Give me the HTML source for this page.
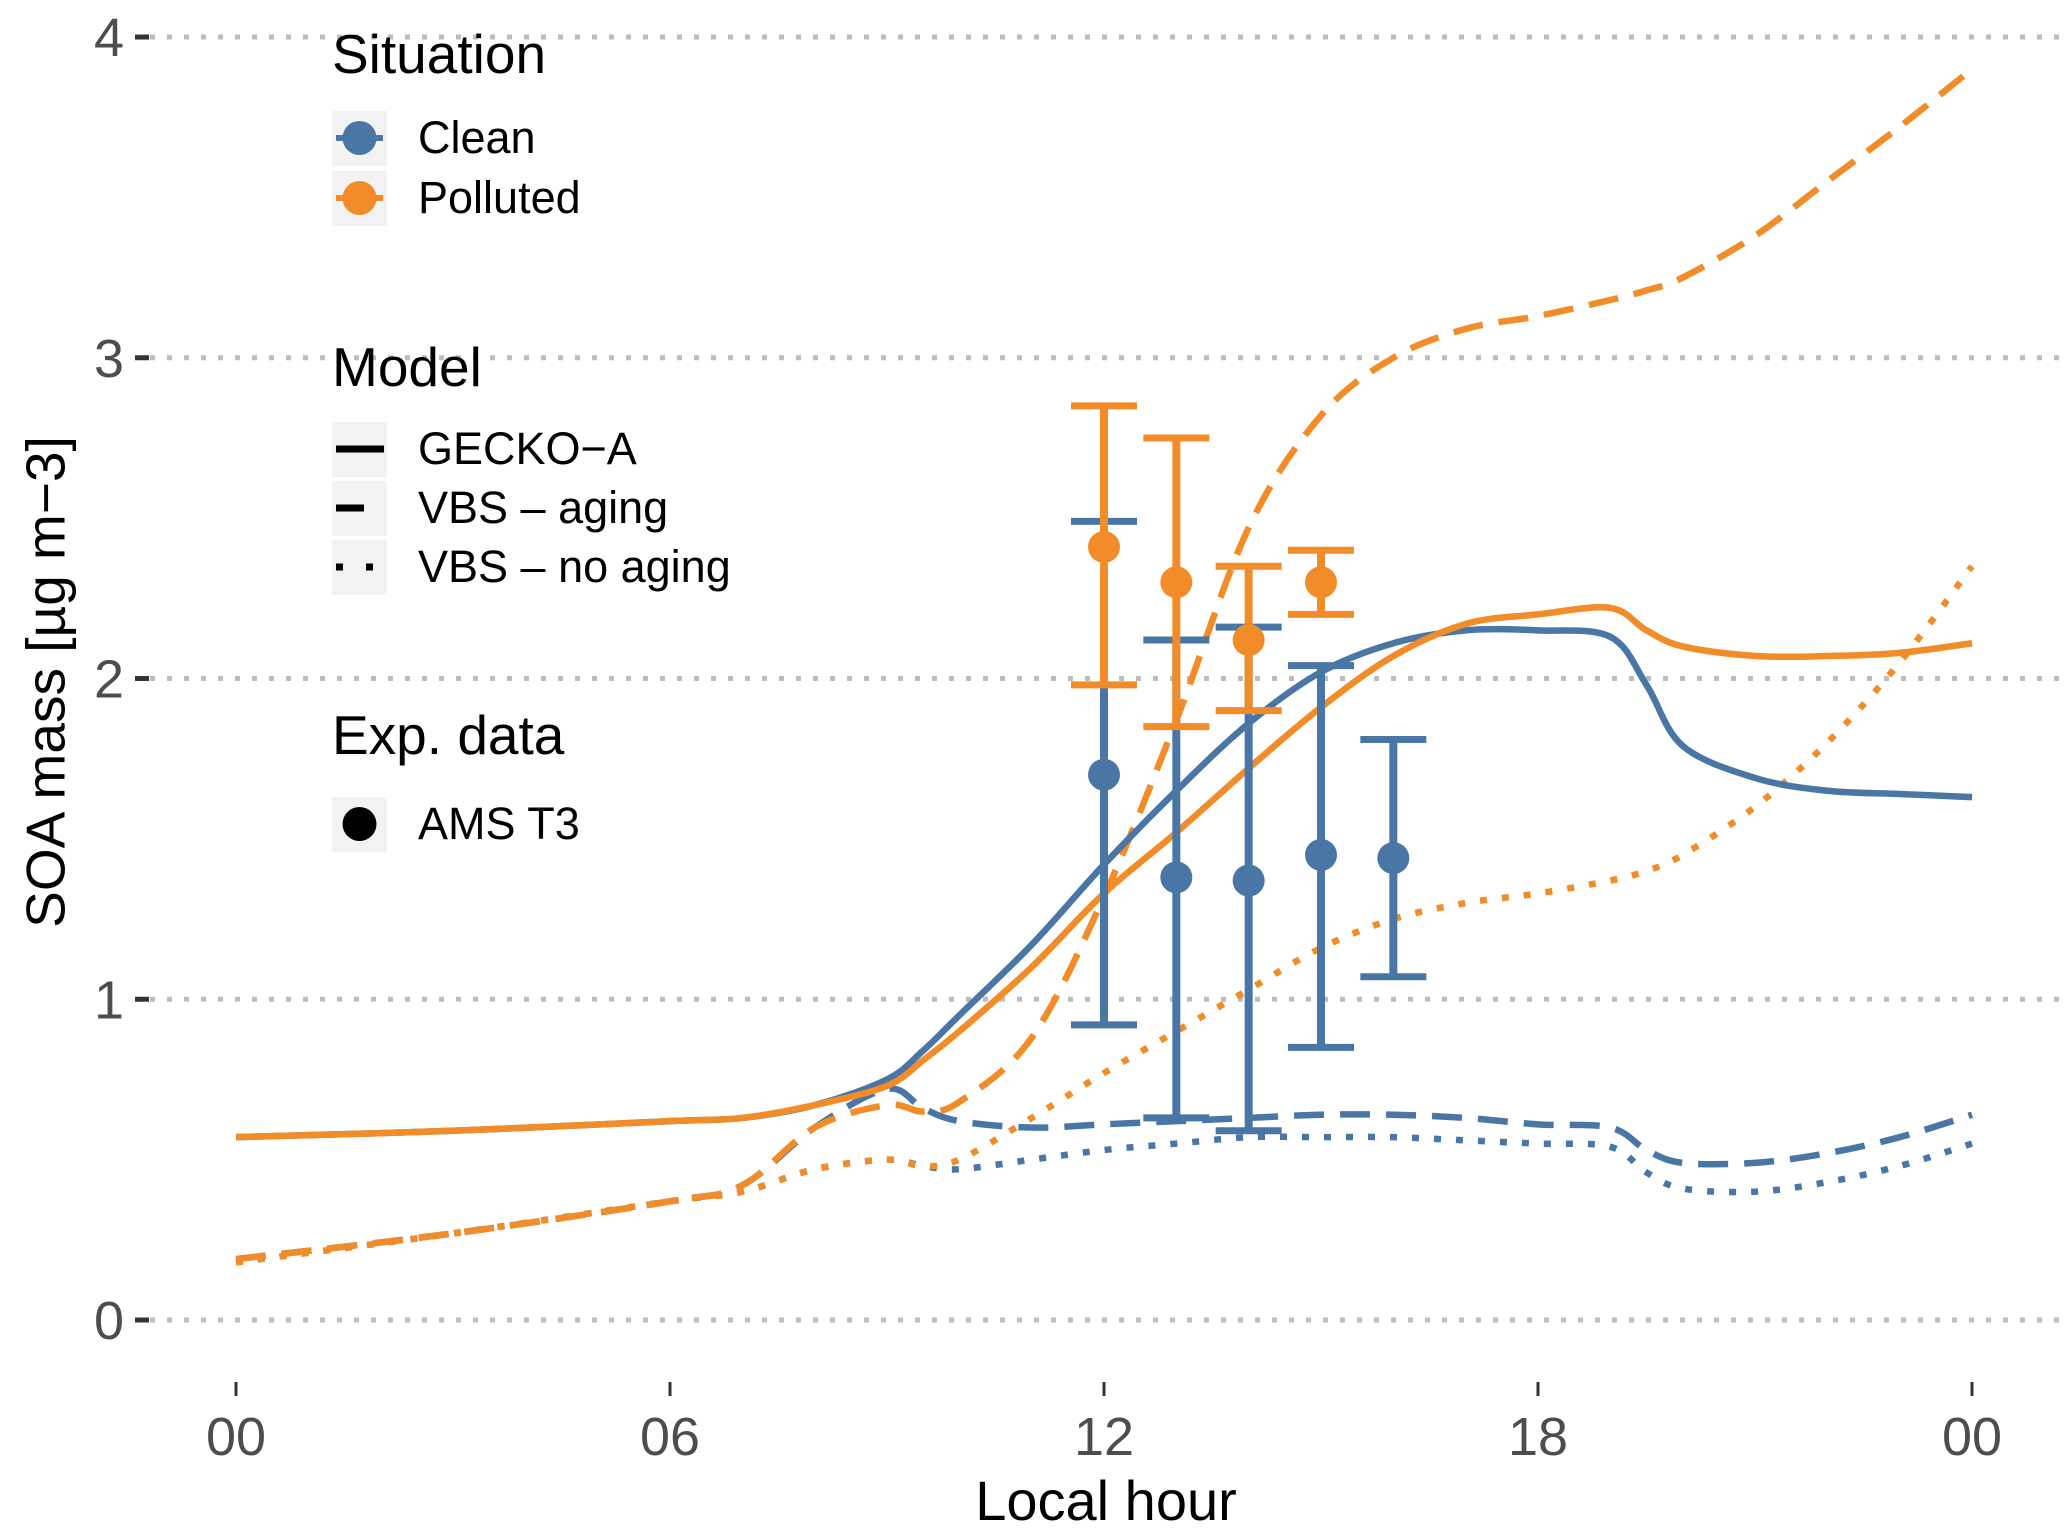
<!DOCTYPE html>
<html><head><meta charset="utf-8">
<style>
html,body{margin:0;padding:0;background:#fff;}
svg{display:block;font-family:"Liberation Sans",Arial,sans-serif;}
</style></head>
<body>
<svg id="chart" width="2067" height="1532" viewBox="0 0 2067 1532">
<g id="grid"></g>
<g id="yaxis"></g>
<g id="xaxis"></g>
<g id="series"></g>
<g id="points"></g>
<text x="50" y="682" transform="rotate(-90 50 682)" text-anchor="middle" dominant-baseline="middle" font-size="55" fill="#000">SOA mass [µg m−3]</text>
<text x="1106" y="1520" text-anchor="middle" font-size="56" fill="#000">Local hour</text>
<g>
 <text x="332" y="73" font-size="55">Situation</text>
 <rect x="332" y="111" width="55" height="55" fill="#f2f2f2"/>
 <line x1="336" y1="138" x2="383" y2="138" stroke="#4A76A6" stroke-width="6"/>
 <circle cx="359.5" cy="138" r="17" fill="#4A76A6"/>
 <text x="418" y="153" font-size="45">Clean</text>
 <rect x="332" y="171" width="55" height="55" fill="#f2f2f2"/>
 <line x1="336" y1="198" x2="383" y2="198" stroke="#F28C28" stroke-width="6"/>
 <circle cx="359.5" cy="198" r="17" fill="#F28C28"/>
 <text x="418" y="213" font-size="45">Polluted</text>
 <text x="332" y="386" font-size="55">Model</text>
 <rect x="332" y="422" width="55" height="55" fill="#f2f2f2"/>
 <line x1="336" y1="449" x2="384" y2="449" stroke="#000" stroke-width="7"/>
 <text x="418" y="464" font-size="45">GECKO−A</text>
 <rect x="332" y="481" width="55" height="55" fill="#f2f2f2"/>
 <line x1="336" y1="508" x2="364" y2="508" stroke="#000" stroke-width="7"/>
 <text x="418" y="523" font-size="45">VBS – aging</text>
 <rect x="332" y="540" width="55" height="55" fill="#f2f2f2"/>
 <line x1="336" y1="567" x2="343" y2="567" stroke="#000" stroke-width="7"/>
 <line x1="366" y1="567" x2="373" y2="567" stroke="#000" stroke-width="7"/>
 <text x="418" y="582" font-size="45">VBS – no aging</text>
 <text x="332" y="754" font-size="55">Exp. data</text>
 <rect x="332" y="797" width="55" height="55" fill="#f2f2f2"/>
 <circle cx="359.5" cy="824" r="17" fill="#000"/>
 <text x="418" y="839" font-size="45">AMS T3</text>
</g>
</svg>
<script>
var yTicks=[0,1,2,3,4];
var xTicks=[0,6,12,18,24];
var xTickLabels=["00","06","12","18","00"];
var hours=[0,3,6,7,8,9,9.5,10,11,12,13,14,15,16,17,18,19,19.5,20,21,22,23,24];
var cleanGecko=[0.57,0.59,0.62,0.63,0.67,0.75,0.84,0.95,1.17,1.42,1.65,1.86,2.02,2.11,2.15,2.15,2.13,1.98,1.79,1.69,1.65,1.64,1.63];
var pollGecko=[0.57,0.59,0.62,0.63,0.67,0.73,0.81,0.9,1.1,1.33,1.52,1.72,1.91,2.07,2.17,2.2,2.22,2.15,2.1,2.07,2.07,2.08,2.11];
var pollAging=[0.19,0.27,0.37,0.42,0.6,0.67,0.65,0.68,0.88,1.32,1.87,2.47,2.82,3.0,3.09,3.13,3.18,3.21,3.25,3.38,3.55,3.72,3.9];
var pollNoAging=[0.18,0.27,0.37,0.4,0.47,0.5,0.48,0.5,0.63,0.77,0.9,1.03,1.16,1.25,1.3,1.33,1.37,1.4,1.45,1.6,1.8,2.05,2.35];
var cleanAging=[0.19,0.27,0.37,0.42,0.6,0.72,0.66,0.62,0.6,0.61,0.62,0.63,0.64,0.64,0.63,0.61,0.6,0.53,0.49,0.49,0.52,0.57,0.64];
var cleanNoAging=[0.18,0.27,0.37,0.4,0.47,0.5,0.48,0.47,0.5,0.53,0.55,0.57,0.57,0.57,0.56,0.55,0.54,0.46,0.41,0.4,0.43,0.48,0.55];
var cleanHours=[12,13,14,15,16];
var cleanMean=[1.7,1.38,1.37,1.45,1.44];
var cleanLo=[0.92,0.63,0.59,0.85,1.07];
var cleanHi=[2.49,2.12,2.16,2.04,1.81];
var pollHours=[12,13,14,15];
var pollMean=[2.41,2.3,2.12,2.3];
var pollLo=[1.98,1.85,1.9,2.2];
var pollHi=[2.85,2.75,2.35,2.4];

var NS="http://www.w3.org/2000/svg";
var BLUE="#4A76A6", ORANGE="#F28C28";
function xs(h){return 236+h*(1972-236)/24;}
function ys(v){return 1320-v*320.75;}
function mk(tag,attrs,parent){var e=document.createElementNS(NS,tag);for(var k in attrs)e.setAttribute(k,attrs[k]);parent.appendChild(e);return e;}
var grid=document.getElementById('grid'),yax=document.getElementById('yaxis'),xax=document.getElementById('xaxis');
yTicks.forEach(function(v){
 var g=mk('line',{x1:150,x2:2067,y1:ys(v),y2:ys(v),stroke:'#bdbdbd','stroke-width':5,'stroke-dasharray':'5 12'},grid);
 
 
 var t=mk('line',{x1:135,x2:149,y1:ys(v),y2:ys(v),stroke:'#333','stroke-width':5},yax);
 
 
 var l=mk('text',{x:124,y:ys(v)+19,'text-anchor':'end','font-size':54,fill:'#4d4d4d'},yax);
 l.textContent=String(v);
 
 
});
xTicks.forEach(function(h,i){
 var t=mk('line',{x1:xs(h),x2:xs(h),y1:1382,y2:1396,stroke:'#333','stroke-width':3},xax);
 
 
 var l=mk('text',{x:xs(h),y:1455,'text-anchor':'middle','font-size':54,fill:'#4d4d4d'},xax);
 l.textContent=xTickLabels[i];
 
 
});
function pathFor(vals){
 var p=hours.map(function(h,i){return [xs(h),ys(vals[i])];});
 var d='M'+p[0][0]+','+p[0][1];
 for(var i=0;i<p.length-1;i++){
  var p0=p[Math.max(0,i-1)],p1=p[i],p2=p[i+1],p3=p[Math.min(p.length-1,i+2)];
  var c1x=p1[0]+(p2[0]-p0[0])/6,c1y=p1[1]+(p2[1]-p0[1])/6;
  var c2x=p2[0]-(p3[0]-p1[0])/6,c2y=p2[1]-(p3[1]-p1[1])/6;
  d+=' C'+c1x+','+c1y+' '+c2x+','+c2y+' '+p2[0]+','+p2[1];
 }
 return d;
}
var ser=document.getElementById('series');
var defs=[[cleanNoAging,BLUE,'7 15','clean-vbs-no-aging'],[pollNoAging,ORANGE,'7 15','polluted-vbs-no-aging'],
 [cleanAging,BLUE,'30 16','clean-vbs-aging'],[pollAging,ORANGE,'30 16','polluted-vbs-aging'],
 [cleanGecko,BLUE,'none','clean-gecko-a'],[pollGecko,ORANGE,'none','polluted-gecko-a']];
defs.forEach(function(s){
 var e=mk('path',{d:pathFor(s[0]),fill:'none',stroke:s[1],'stroke-width':6.5,'stroke-dasharray':s[2]},ser);
 
 
});
var pts=document.getElementById('points');
function drawExp(hs,m,lo,hi,col,name){
 hs.forEach(function(h,i){
  var g=mk('g',{},pts);
  
  
  var x=xs(h);
  mk('line',{x1:x,x2:x,y1:ys(lo[i]),y2:ys(hi[i]),stroke:col,'stroke-width':8},g);
  mk('line',{x1:x-33,x2:x+33,y1:ys(lo[i]),y2:ys(lo[i]),stroke:col,'stroke-width':7},g);
  mk('line',{x1:x-33,x2:x+33,y1:ys(hi[i]),y2:ys(hi[i]),stroke:col,'stroke-width':7},g);
  mk('circle',{cx:x,cy:ys(m[i]),r:16,fill:col},g);
 });
}
drawExp(cleanHours,cleanMean,cleanLo,cleanHi,BLUE,'clean');
drawExp(pollHours,pollMean,pollLo,pollHi,ORANGE,'polluted');
</script>
</body></html>
